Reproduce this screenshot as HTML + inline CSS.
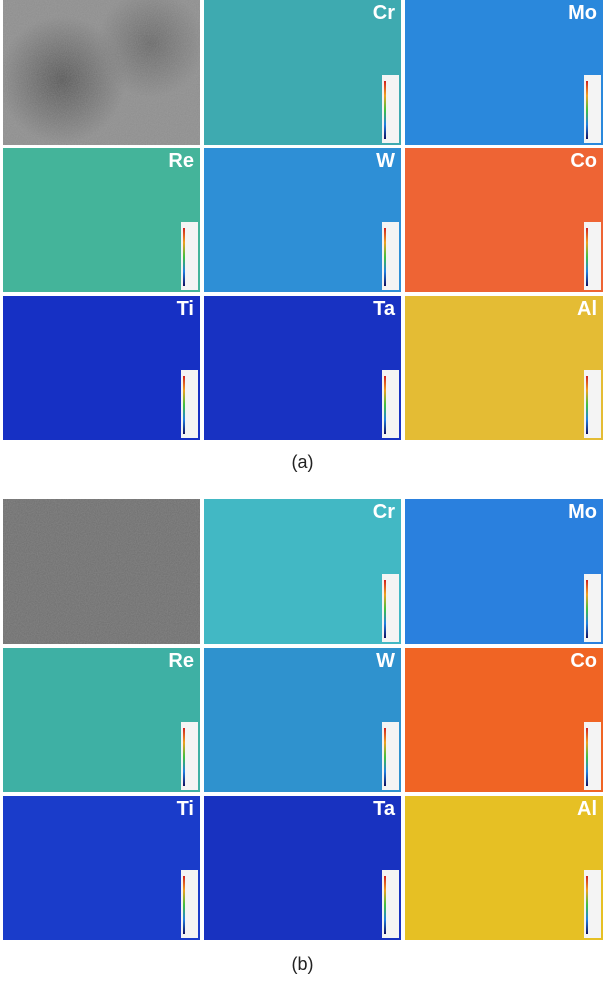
<!DOCTYPE html>
<html><head><meta charset="utf-8"><style>
body{margin:0;width:605px;height:982px;background:#fff;position:relative;overflow:hidden;font-family:"Liberation Sans",sans-serif}
.p{position:absolute;overflow:hidden}
.l{position:absolute;right:6px;top:2px;color:#fff;font-weight:bold;font-size:20px}
.cb{position:absolute;right:2px;bottom:2px;width:17px;height:68px;background:#f4f4f4}
.cb:before{content:"";position:absolute;left:2px;top:6px;width:2px;height:58px;background:linear-gradient(#d02020,#f0a020,#40c040,#2080e0,#101060)}
.cap{position:absolute;width:605px;text-align:center;font-size:18px;color:#222}
svg{position:absolute;left:0;top:0}
</style></head><body>
<svg width="0" height="0"><filter id="n"><feTurbulence type="fractalNoise" baseFrequency="0.9" numOctaves="1"/><feColorMatrix values="0 0 0 0 0.5 0 0 0 0 0.5 0 0 0 0 0.5 0 0 0 0.35 0"/></filter></svg>

<div class="p" style="left:3px;top:0;width:197px;height:145px;background:radial-gradient(circle at 30% 55%,#555 0,#777 25%,transparent 40%),radial-gradient(circle at 75% 30%,#666 0,transparent 30%),#8c8c8c"><svg width="197" height="145"><rect width="197" height="145" filter="url(#n)"/></svg></div>
<div class="p" style="left:204px;top:0;width:197px;height:145px;background:#3eaab0"><div class="l">Cr</div><div class="cb"></div></div>
<div class="p" style="left:405px;top:0;width:198px;height:145px;background:#2a88dc"><div class="l">Mo</div><div class="cb"></div></div>

<div class="p" style="left:3px;top:148px;width:197px;height:144px;background:#44b49a"><div class="l">Re</div><div class="cb"></div></div>
<div class="p" style="left:204px;top:148px;width:197px;height:144px;background:#2e8fd6"><div class="l">W</div><div class="cb"></div></div>
<div class="p" style="left:405px;top:148px;width:198px;height:144px;background:#ee6434"><div class="l">Co</div><div class="cb"></div></div>

<div class="p" style="left:3px;top:296px;width:197px;height:144px;background:#1630c4"><div class="l">Ti</div><div class="cb"></div></div>
<div class="p" style="left:204px;top:296px;width:197px;height:144px;background:#1832c2"><div class="l">Ta</div><div class="cb"></div></div>
<div class="p" style="left:405px;top:296px;width:198px;height:144px;background:#e4bc34"><div class="l">Al</div><div class="cb"></div></div>

<div class="cap" style="top:452px">(a)</div>

<div class="p" style="left:3px;top:499px;width:197px;height:145px;background:#6c6c6c"><svg width="197" height="145"><rect width="197" height="145" filter="url(#n)"/></svg></div>
<div class="p" style="left:204px;top:499px;width:197px;height:145px;background:#42b8c4"><div class="l">Cr</div><div class="cb"></div></div>
<div class="p" style="left:405px;top:499px;width:198px;height:145px;background:#2a80de"><div class="l">Mo</div><div class="cb"></div></div>

<div class="p" style="left:3px;top:648px;width:197px;height:144px;background:#3eb0a4"><div class="l">Re</div><div class="cb"></div></div>
<div class="p" style="left:204px;top:648px;width:197px;height:144px;background:#2f92ce"><div class="l">W</div><div class="cb"></div></div>
<div class="p" style="left:405px;top:648px;width:198px;height:144px;background:#f06424"><div class="l">Co</div><div class="cb"></div></div>

<div class="p" style="left:3px;top:796px;width:197px;height:144px;background:#1a3cca"><div class="l">Ti</div><div class="cb"></div></div>
<div class="p" style="left:204px;top:796px;width:197px;height:144px;background:#1832c0"><div class="l">Ta</div><div class="cb"></div></div>
<div class="p" style="left:405px;top:796px;width:198px;height:144px;background:#e6c024"><div class="l">Al</div><div class="cb"></div></div>

<div class="cap" style="top:954px">(b)</div>
</body></html>
